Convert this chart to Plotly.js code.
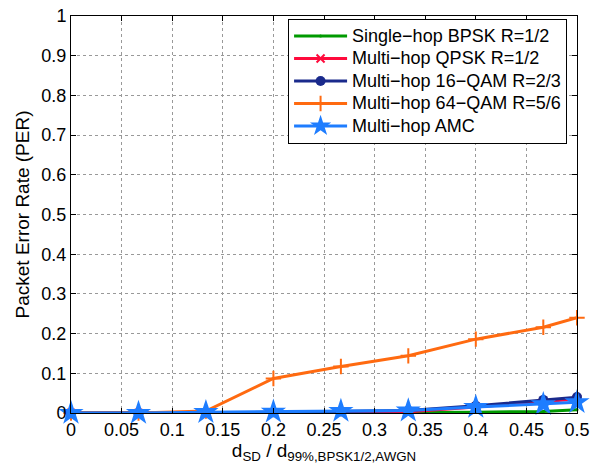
<!DOCTYPE html>
<html>
<head>
<meta charset="utf-8">
<script src="https://cdn.plot.ly/plotly-3.0.1.min.js"></script>
<style>html,body{margin:0;padding:0;background:#fff;} #chart{width:606px;height:468px;}</style>
</head>
<body>
<div id="chart"></div>
<script>
const xVals = [0, 0.0667, 0.1333, 0.2, 0.2667, 0.3333, 0.4, 0.4667, 0.5];
const seriesNames = ["Single\u2212hop BPSK R=1/2", "Multi\u2212hop QPSK R=1/2", "Multi\u2212hop 16\u2212QAM R=2/3", "Multi\u2212hop 64\u2212QAM R=5/6", "Multi\u2212hop AMC"];
const singleBPSK = [0, 0, 0, 0, 0, 0.001, 0.002, 0.004, 0.008];
const multiQPSK = [0, 0, 0, 0.001, 0.002, 0.003, 0.015, 0.028, 0.035];
const multi16QAM = [0, 0, 0, 0.002, 0.004, 0.006, 0.018, 0.033, 0.040];
const multi64QAM = [0, 0, 0.005, 0.087, 0.117, 0.144, 0.186, 0.216, 0.240];
const multiAMC = [0, 0, 0.002, 0.003, 0.005, 0.006, 0.015, 0.022, 0.027];
const xTicks = [0, 0.05, 0.1, 0.15, 0.2, 0.25, 0.3, 0.35, 0.4, 0.45, 0.5];
const xTickText = ["0", "0.05", "0.1", "0.15", "0.2", "0.25", "0.3", "0.35", "0.4", "0.45", "0.5"];
const yTicks = [0, 0.1, 0.2, 0.3, 0.4, 0.5, 0.6, 0.7, 0.8, 0.9, 1];
const yTickText = ["0", "0.1", "0.2", "0.3", "0.4", "0.5", "0.6", "0.7", "0.8", "0.9", "1"];

const colors = ["#009a00", "#ff0a3c", "#1a2a8c", "#ff6a10", "#1e7dff"];
const symbols = ["circle", "x-thin-open", "circle", "cross-thin-open", "star"];
const sizes = [3, 8, 10, 11, 19];
const data = [singleBPSK, multiQPSK, multi16QAM, multi64QAM, multiAMC];

const traces = data.map((y, i) => ({
  x: xVals, y: y, name: '<span style="font-size:18px">' + seriesNames[i] + '</span>', type: "scatter", mode: "lines+markers",
  line: {color: colors[i], width: 3},
  marker: {color: colors[i], symbol: symbols[i], size: sizes[i], line: {color: colors[i], width: (i === 1 || i === 3) ? 2 : 0}},
  cliponaxis: false
}));

const fam = "Liberation Sans, Arial, sans-serif";
const layout = {
  width: 606, height: 468,
  margin: {l: 71, r: 29, t: 16, b: 55},
  paper_bgcolor: "#fff", plot_bgcolor: "#fff",
  font: {family: fam, size: 18, color: "#000"},
  showlegend: true,
  legend: {x: 0.429, y: 0.993, xanchor: "left", yanchor: "top", bgcolor: "#fff", bordercolor: "#000", borderwidth: 1, itemwidth: 53, font: {family: fam, size: 15, color: "#000"}, tracegroupgap: 0},
  xaxis: {
    range: [0, 0.5], tickvals: xTicks, ticktext: xTickText, ticks: "inside", ticklen: 5, tickcolor: "#000",
    showline: true, linecolor: "#000", linewidth: 1, mirror: "ticks",
    showgrid: true, gridcolor: "#999", griddash: "dot", gridwidth: 1, zeroline: false,
    title: {text: "d<sub>SD</sub> / d<sub>99%,BPSK1/2,AWGN</sub>", font: {family: fam, size: 19, color: "#000"}, standoff: 2},
    tickfont: {family: fam, size: 18, color: "#000"}
  },
  yaxis: {
    range: [0, 1], tickvals: yTicks, ticktext: yTickText, ticks: "inside", ticklen: 5, tickcolor: "#000",
    showline: true, linecolor: "#000", linewidth: 1, mirror: "ticks",
    showgrid: true, gridcolor: "#999", griddash: "dot", gridwidth: 1, zeroline: false,
    title: {text: "Packet Error Rate (PER)", font: {family: fam, size: 19, color: "#000"}, standoff: 6},
    tickfont: {family: fam, size: 18, color: "#000"}
  }
};
Plotly.newPlot("chart", traces, layout, {displayModeBar: false, staticPlot: true});
</script>
</body>
</html>
